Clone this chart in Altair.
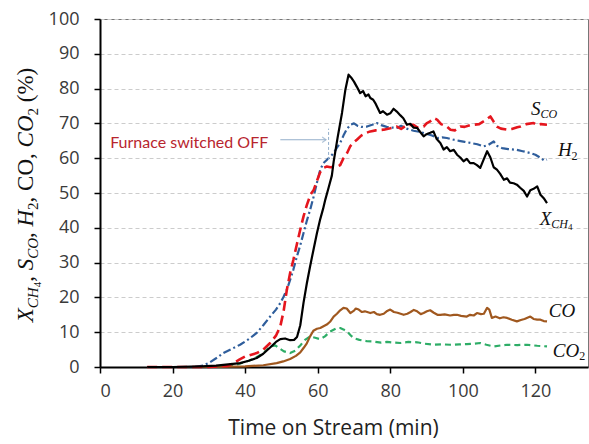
import altair as alt
import pandas as pd

# ---------------------------------------------------------------------------
# Measured values (%) versus time on stream (min)
# ---------------------------------------------------------------------------
t_xch4 = [13, 20, 25, 28, 32, 36, 38.6, 41, 43.2, 45, 46.9, 48.5, 49.7, 51, 52.4,
          53.5, 54.3, 55.2, 56.1, 57, 57.9, 58.8, 59.8, 60.7, 61.5, 62.1, 63, 63.9,
          64.4, 65.5, 66.7, 67.6, 68.5, 69.2, 70, 70.8, 71.7, 72.5, 73.2, 74, 74.5,
          75.3, 76, 77.2, 78, 79.1, 80, 80.9, 81.8, 82.8, 83.6, 84.6, 85.5, 86.4,
          87.4, 88.2, 89.2, 90, 91, 91.9, 92.8, 93.8, 94.7, 95.6, 96.5, 97.5, 98.4,
          99.3, 100.2, 101.1, 102, 103, 103.9, 104.8, 105.7, 106.7, 107.6, 108.5,
          109.4, 110.3, 111.3, 112.2, 113, 114, 114.9, 115.8, 116.8, 117.7, 118.6,
          119.5, 120.5, 121.4, 122.3, 123.2]
v_xch4 = [0, 0, 0.1, 0.2, 0.4, 0.8, 1.1, 1.8, 2.6, 3.8, 5.6, 7.2, 8.0, 8.2, 7.7,
          7.8, 8.6, 12, 18.5, 24, 28.9, 33.5, 38.5, 42.5, 45.5, 48.1, 51.5, 55,
          59, 66, 73, 79.5, 84, 83.2, 82, 80.5, 78.7, 79.3, 77.8, 78.3, 77.3,
          76.8, 75.6, 73.0, 73.5, 72.5, 72.9, 74.2, 73.4, 72.3, 71.5, 69.6, 69.9, 68.8,
          68.7, 67.6, 66.3, 66.9, 67.3, 67.7, 65.5, 64.4, 62.5, 63.2, 62.0, 62.4, 61.0,
          60.2, 59.1, 59.8, 58.6, 58.6, 58.0, 57.2, 59.5, 62.0, 60.2, 57.4,
          56.7, 55.5, 53.8, 54.2, 53.0, 52.8, 52.4, 51.5, 50.6, 49.0, 50.8,
          51.2, 51.9, 49.5, 48.5, 47.1]

t_sco = [13, 20, 30, 35, 36.8, 38.5, 40, 43.2, 45, 46.9, 48.5, 49.7, 50.6, 51.5,
         52.4, 53.3, 54.2, 55.2, 56.1, 57, 58, 58.9, 59.8, 60.7, 61.6, 62.5, 63.5,
         64.5, 65.5, 66.2, 67.1, 68.1, 69, 70, 70.8, 72, 73.2, 74.5, 76, 78.2, 80,
         81.8, 83, 84.5, 86.4, 87.5, 89.2, 90, 91, 92, 92.9, 94, 95.6, 96.6, 97.8,
         99.3, 100.5, 102, 103, 104.5, 105.7, 106.7, 107.6, 108.5, 109.4, 110.5,
         112.2, 113.5, 115, 115.9, 117.5, 119.5, 120.5, 121.5, 123.2]
v_sco = [0, 0, 0, 0.3, 1.1, 2.2, 3.0, 4.0, 5.0, 6.9, 9.0, 11.7, 16, 22.2,
         27, 30.8, 35, 39.5, 43.3, 46.5, 49.5, 50.9, 53.5, 56, 57.2, 57.6, 57.4,
         57.5, 57.6, 58.0, 60, 61.5, 63.5, 64.6, 65.3, 66.5, 67.2, 67.7, 68.0, 68.2, 68.6,
         69.1, 68.4, 69.5, 69.6, 68.8, 69.1, 70.0, 70.6, 71.5, 71.1, 69.8, 69.1, 68.2, 68.0,
         69.1, 69.0, 69.5, 69.6, 69.8, 70.6, 71.3, 72.0, 70.5, 69.1, 68.5,
         68.2, 68.4, 68.9, 69.1, 69.8, 70.1, 69.5, 69.8, 69.6]

t_h2 = [13, 20, 26, 28, 29.9, 32, 34, 36.3, 38.6, 41, 43.2, 45, 46.9, 48.5, 49.7,
        50.6, 51.5, 52.4, 53.3, 54.2, 55.2, 56.1, 57, 58, 58.9, 59.8, 60.7, 61.6,
        62.5, 63.5, 64.4, 65.3, 66.2, 67.1, 68, 69, 70, 71, 72, 73.6, 75, 76.3,
        77.5, 79, 80.5, 81.8, 83, 84.5, 86.4, 88, 90.1, 91.5, 93, 94.3, 95.6, 97.5,
        99, 100.5, 102.1, 104, 105.7, 107, 108.5, 109.5, 110.8, 112.5, 114.9, 116.5,
        118.6, 120, 121.4, 122.3, 123.2]
v_h2 = [0, 0, 0, 0.3, 1.1, 2.5, 4.0, 5.2, 6.4, 8.0, 9.8, 12, 14.5, 16.5, 18.4,
        20.2, 22.2, 25, 28, 31.5, 35, 38.5, 42, 45.5, 49, 53, 56.7, 58.6,
        59.5, 60.5, 61.5, 63, 64.4, 66.5, 68.3, 69.6, 70.0, 69.3, 69.0, 69.1, 69.6, 70.1,
        69.5, 69.0, 68.8, 68.7, 69.3, 68.5, 67.9, 67.6, 67.0, 66.5, 65.8, 66.0, 65.8, 65.3,
        65.0, 64.7, 64.4, 64.0, 63.4, 63.8, 64.8, 63.5, 62.9, 62.6, 62.4, 62.0,
        61.5, 61.0, 60.1, 59.4, 59.6]

t_co = [13, 30, 40, 45, 48.7, 50.5, 52.4, 54, 55.2, 56.2, 57, 57.9, 58.8, 59.8,
        60.7, 61.6, 62.5, 63.4, 64.4, 65.3, 66.2, 67.1, 68, 69, 70, 70.5, 71.3,
        72.2, 73, 74.5, 75.5, 76.3, 77.2, 78.2, 79, 80, 81, 82, 83.7, 84.7, 85.6,
        86.5, 87.4, 88.4, 89.2, 90.1, 91, 92, 93, 93.8, 95, 96.5, 97.5, 98.4, 99.5,
        101.1, 102, 103, 103.9, 105, 105.8, 106.7, 107.3, 108, 109, 110.2, 111.2,
        112.2, 113.5, 114.9, 116, 117, 118.6, 119.5, 120.5, 121.4, 122.3, 123.2]
v_co = [0, 0, 0.2, 0.5, 1.1, 1.6, 2.3, 3.2, 4.2, 5.6, 6.8, 8.8, 10.4, 11.0,
        11.2, 11.7, 12.2, 13.0, 14.5, 15.3, 16.3, 17.0, 16.8, 15.5, 16.2, 16.8, 16.5,
        15.8, 16.0, 15.5, 15.8, 15.2, 15.0, 15.3, 16.0, 16.5, 15.8, 15.6, 15.0, 15.3, 15.8,
        16.4, 16.0, 15.2, 15.5, 16.0, 16.3, 15.6, 15.0, 15.0, 15.1, 14.8, 15.0, 15.0, 14.7,
        14.5, 15.0, 14.8, 15.5, 15.2, 15.3, 17.0, 16.5, 14.1, 14.5, 14.0, 14.3,
        14.1, 13.6, 13.1, 13.5, 13.8, 14.5, 13.8, 13.6, 13.6, 13.2, 13.1]

t_co2 = [13, 30, 35, 38, 41, 43.5, 45.5, 46.9, 48.3, 49.5, 50.7, 52.4, 53.8, 55.2,
         56.5, 57.9, 59.3, 60.7, 62, 63.4, 65.3, 66.2, 67.1, 68.1, 69, 69.9, 71.5,
         73.6, 75.5, 77.5, 79.1, 81, 82.8, 85, 87.4, 89.5, 91.9, 94, 96.6, 99,
         101.1, 103, 104.8, 106.5, 108.5, 110.5, 112.2, 115, 117.7, 120.5, 123.2]
v_co2 = [0, 0, 0.3, 0.8, 1.8, 3.0, 4.5, 5.9, 6.2, 5.3, 4.5, 4.0, 4.7, 6.2,
         7.8, 8.8, 8.4, 8.0, 8.8, 10.2, 11.2, 11.2, 10.8, 10.2, 9.2, 8.3, 7.8,
         7.4, 7.3, 7.0, 7.2, 7.0, 6.9, 7.2, 7.1, 6.7, 6.4, 6.5, 6.4, 6.5,
         6.6, 6.7, 6.9, 6.4, 5.9, 6.2, 6.4, 6.3, 6.4, 6.1, 5.9]

# Axis tick values
x_ticks = [0, 20, 40, 60, 80, 100, 120]
y_ticks = [0, 10, 20, 30, 40, 50, 60, 70, 80, 90, 100]

# ---------------------------------------------------------------------------
# Styling
# ---------------------------------------------------------------------------
W, H = 488, 348
X_MAX = 134.5
PX_PER_MIN = W / X_MAX
SANS = "Open Sans"
SERIF = "Liberation Serif"
xs = alt.Scale(domain=[0, X_MAX], nice=False, zero=False)
ys = alt.Scale(domain=[0, 100], nice=False)

RED = "#E5161E"
BLUE = "#2F5E9C"
BROWN = "#A0581F"
GREEN = "#2EAD67"
ANNOT = "#B8252E"
ARROW = "#93AECA"
LABEL_GREY = "#3a3a3a"

XA = alt.Axis(values=x_ticks, title="Time on Stream (min)", grid=False,
              labelFont=SANS, labelFontSize=18, labelColor=LABEL_GREY,
              labelPadding=9, tickSize=6, tickColor="#000", tickWidth=1.5,
              domainColor="#000", domainWidth=2,
              titleFont=SANS, titleFontSize=21, titleFontWeight="normal",
              titleColor="#222222", titlePadding=17, titleX=233)
YA = alt.Axis(values=y_ticks, title=None, grid=True, gridColor="#cccccc",
              gridDash=[4, 3], gridWidth=1,
              labelFont=SANS, labelFontSize=18, labelColor=LABEL_GREY,
              labelPadding=15, tickSize=6, tickColor="#000", tickWidth=1.5,
              domainColor="#000", domainWidth=2)


def X(field):
    return alt.X(field, scale=xs, axis=XA)


def Y(field):
    return alt.Y(field, scale=ys, axis=YA)


def series_line(t, v, color, width, dash=None):
    df = pd.DataFrame({"t": t, "v": v})
    kw = dict(color=color, strokeWidth=width, strokeCap="butt", strokeJoin="round")
    if dash:
        kw["strokeDash"] = dash
    return alt.Chart(df).mark_line(**kw).encode(x=X("t:Q"), y=Y("v:Q"))


lines = [
    series_line(t_co2, v_co2, GREEN, 2.2, [6, 4]),
    series_line(t_co, v_co, BROWN, 2.2),
    series_line(t_h2, v_h2, BLUE, 2.2, [8, 3, 2, 3]),
    series_line(t_sco, v_sco, RED, 2.6, [10, 5]),
    series_line(t_xch4, v_xch4, "#000000", 2.2),
]

# ---------------------------------------------------------------------------
# Series labels: main symbol followed by subscripts
# ---------------------------------------------------------------------------
# advance widths (em) for Times-metric serif glyphs
ADV_IT = {"X": .611, "C": .667, "H": .722, "S": .5, "O": .722, "2": .5, "4": .5}
ADV_UP = {"C": .667, "O": .722, "2": .5, "4": .5, ",": .25, "(": .333, "%": .833, ")": .333}


def adv(txt, size, italic):
    table = ADV_IT if italic else ADV_UP
    return sum(table[c] for c in txt) * size


LBL_MAIN, LBL_SUB, LBL_SUBSUB = 19, 12, 9
# (symbol, t, v, [(subscript, italic, level), ...])
series_labels = [
    ("S", 118.8, 72.5, [("CO", True, 1)]),
    ("H", 126.2, 60.5, [("2", False, 1)]),
    ("X", 121.2, 40.9, [("CH", True, 1), ("4", False, 2)]),
    ("CO", 123.7, 14.5, []),
    ("CO", 124.8, 3.0, [("2", False, 1)]),
]
rows = []
for sym, t, v, subs in series_labels:
    rows.append({"t": t, "v": v, "txt": sym, "fs": LBL_MAIN, "it": True})
    cur = t + adv(sym, LBL_MAIN, True) / PX_PER_MIN
    for txt, italic, level in subs:
        fs = LBL_SUB if level == 1 else LBL_SUBSUB
        drop = (3.5 if level == 1 else 5.5) / (H / 100)
        rows.append({"t": cur, "v": v - drop, "txt": txt, "fs": fs, "it": italic})
        cur += adv(txt, fs, italic) / PX_PER_MIN
label_df = pd.DataFrame(rows)


def label_layer(italic):
    return alt.Chart(label_df[label_df["it"] == italic]).mark_text(
        font=SERIF, fontStyle="italic" if italic else "normal", align="left",
        baseline="alphabetic", color="#111111",
    ).encode(
        x=X("t:Q"), y=Y("v:Q"), text="txt:N",
        size=alt.Size("fs:Q", scale=None, legend=None),
    )


labels = [label_layer(True), label_layer(False)]

# ---------------------------------------------------------------------------
# "Furnace switched OFF" annotation with arrow and marker
# ---------------------------------------------------------------------------
annot_text = alt.Chart(pd.DataFrame({"t": [2.8], "v": [62.9], "txt": ["Furnace switched OFF"]})).mark_text(
    font="Lato", fontSize=16, align="left", baseline="alphabetic", color=ANNOT,
).encode(x=X("t:Q"), y=Y("v:Q"), text="txt:N")

arrow_df = pd.DataFrame({"t": [49.7], "t2": [62.3], "v": [65.3]})
arrow_line = alt.Chart(arrow_df).mark_rule(color=ARROW, strokeWidth=1.2).encode(
    x=X("t:Q"), x2="t2:Q", y=Y("v:Q"))
arrow_head = alt.Chart(arrow_df).mark_point(
    shape="M -1 -0.7 L 0 0 L -1 0.7", filled=False, color=ARROW, strokeWidth=1.2, size=60,
).encode(x=X("t2:Q"), y=Y("v:Q"))

marker_df = pd.DataFrame({"t": [63.0], "v": [59.5], "v2": [68.5]})
marker = alt.Chart(marker_df).mark_rule(color=ARROW, strokeWidth=1, strokeDash=[3, 2]).encode(
    x=X("t:Q"), y=Y("v:Q"), y2="v2:Q")

# ---------------------------------------------------------------------------
# Rotated y-axis title with subscripts, laid out piece by piece
# ---------------------------------------------------------------------------
SIZES = {"main": 23, "sub": 15, "subsub": 11}
SHIFT = {"main": 0, "sub": 5, "subsub": 8}
title_pieces = [
    ("X", "main", True, 0), ("CH", "sub", True, 0), ("4", "subsub", False, 0),
    (",", "main", False, .25), ("S", "main", True, 0), ("CO", "sub", True, 0),
    (",", "main", False, .25), ("H", "main", True, 0), ("2", "sub", False, 0),
    (",", "main", False, .25), ("CO,", "main", False, .25), ("CO", "main", True, 0),
    ("2", "sub", False, .25), ("(%)", "main", False, 0),
]
widths = [adv(txt, SIZES[k], it) + gap * SIZES["main"] for txt, k, it, gap in title_pieces]
base_x = -67          # baseline, relative to the plot's left edge
pos = H / 2 + 2 + sum(widths) / 2
title_layers = []
for (txt, kind, italic, gap), w in zip(title_pieces, widths):
    title_layers.append(
        alt.Chart(pd.DataFrame({"txt": [txt]})).mark_text(
            font=SERIF, fontStyle="italic" if italic else "normal", fontSize=SIZES[kind],
            angle=270, align="left", baseline="alphabetic", color="#111111",
        ).encode(x=alt.value(base_x + SHIFT[kind]), y=alt.value(pos), text="txt:N")
    )
    pos -= w

chart = alt.layer(
    *lines, *labels, annot_text, arrow_line, arrow_head, marker, *title_layers,
).properties(
    width=W, height=H,
    autosize=alt.AutoSizeParams(type="none"),
    padding={"left": 100, "top": 19, "right": 1, "bottom": 77},
    background="white",
).configure_view(stroke="#777777", strokeWidth=1)

chart.save("out.html", embed_options={"renderer": "svg", "actions": False})
